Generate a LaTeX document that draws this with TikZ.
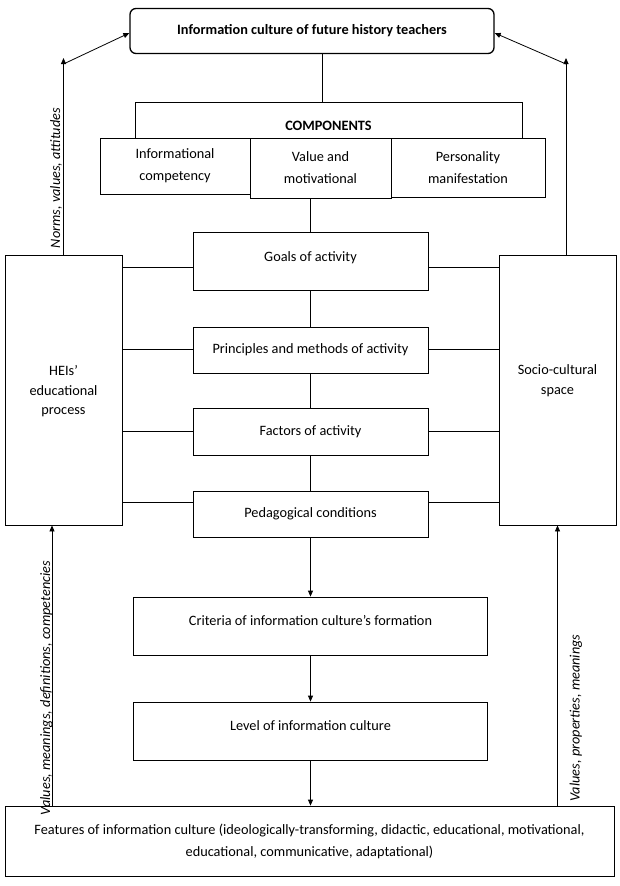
\documentclass[tikz,border=0pt]{standalone}
\usepackage{fontspec}
\setmainfont{Carlito}
\usetikzlibrary{arrows.meta}
\begin{document}
\begin{tikzpicture}[x=1pt,y=-1pt,
  box/.style={draw, line width=0.8pt, align=center, inner sep=0pt, fill=white,
    font=\fontsize{14.3}{22}\selectfont},
  conn/.style={line width=0.8pt},
  arr/.style={line width=0.8pt, -{Triangle[length=6pt,width=5pt]}},
  lab/.style={rotate=90, inner sep=0pt, font=\itshape\fontsize{14.3}{16}\selectfont}]
\useasboundingbox (0,0) rectangle (620,886);
% top
\node[box, line width=1.3pt, rounded corners=6pt, minimum width=364, minimum height=45,
  font=\bfseries\fontsize{14.3}{16}\selectfont] (top) at (312,31) {Information culture of future history teachers};
% components
\node[box, minimum width=387, minimum height=48, font=\bfseries\fontsize{14.3}{16}\selectfont] (comp) at (328.5,126) {COMPONENTS};
\node[box, minimum width=150, minimum height=56] (info) at (175,166) {Informational\\competency};
\node[box, minimum width=141, minimum height=60] (value) at (320.5,168) {Value and\\motivational};
\node[box, minimum width=154, minimum height=59] (pers) at (468,167.5) {Personality\\manifestation};
% center column
\node[box, minimum width=235, minimum height=58, text depth=9pt] (goals) at (310.5,261) {Goals of activity};
\node[box, minimum width=235, minimum height=46] (princ) at (310.5,350) {Principles and methods of activity};
\node[box, minimum width=235, minimum height=47] (fact) at (310.5,431.5) {Factors of activity};
\node[box, minimum width=235, minimum height=46] (ped) at (310.5,514) {Pedagogical conditions};
\node[box, minimum width=354, minimum height=58, text depth=11pt] (crit) at (310.5,626) {Criteria of information culture’s formation};
\node[box, minimum width=354, minimum height=58, text depth=11pt] (level) at (310.5,731) {Level of information culture};
\node[box, minimum width=609, minimum height=70] (feat) at (309.5,841) {Features of information culture (ideologically-transforming,  didactic,  educational,  motivational,\\educational,  communicative,  adaptational)};
% side boxes
\node[box, minimum width=117, minimum height=270, font=\fontsize{14.3}{19.5}\selectfont, text depth=-7pt] (hei) at (63.5,390) {HEIs’\\educational\\process};
\node[box, minimum width=117, minimum height=270, font=\fontsize{14.3}{20}\selectfont, text depth=20pt] (socio) at (557.5,390) {Socio-cultural\\space};
% connectors
\coordinate (c1) at (322,0);
\draw[conn] (top.south -| c1) -- (comp.north -| c1);
\draw[conn] (value.south -| goals.north) -- (goals.north);
\draw[conn] (goals.south) -- (princ.north);
\draw[conn] (princ.south) -- (fact.north);
\draw[conn] (fact.south) -- (ped.north);
\draw[arr] (ped.south) -- (crit.north);
\draw[arr] (crit.south) -- (level.north);
\draw[arr] (level.south) -- (level.south |- feat.north);
\coordinate (h1) at (0,267);
\coordinate (h2) at (0,349);
\coordinate (h3) at (0,431);
\coordinate (h4) at (0,502);
\foreach \h/\b in {h1/goals,h2/princ,h3/fact,h4/ped}{
  \draw[conn] (hei.east |- \h) -- (\b.west |- \h);
  \draw[conn] (\b.east |- \h) -- (socio.west |- \h);
}
% bottom arrows
\coordinate (bl) at (52,0);
\draw[arr] (feat.north -| bl) -- (hei.south -| bl);
\draw[arr] (feat.north -| socio.south) -- (socio.south);
% top arrows
\coordinate (tl) at (63.5,58);
\coordinate (tlc) at (63.5,64);
\coordinate (tr) at (566,58);
\coordinate (trc) at (566,64);
\draw[arr] (hei.north) -- (tl);
\draw[arr] (tlc) -- ([yshift=-2pt]top.west);
\draw[arr] (socio.north -| tr) -- (tr);
\draw[arr] (trc) -- ([yshift=-2pt]top.east);
% labels
\node[lab] (l1) at (56,178) {Norms, values, attitudes};
\node[lab] (l2) at (46.5,688) {Values, meanings, definitions, competencies};
\node[lab] (l3) at (576,718) {Values, properties, meanings};
\end{tikzpicture}
\end{document}
